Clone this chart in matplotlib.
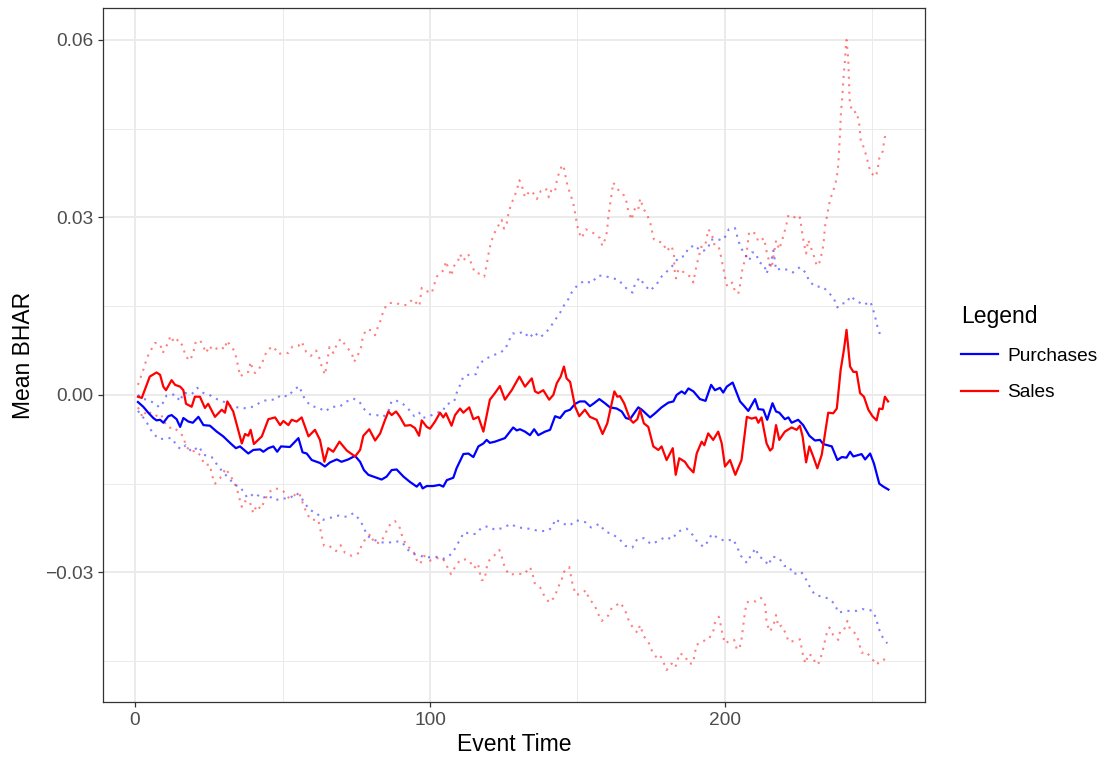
import matplotlib
matplotlib.use("Agg")
import matplotlib.pyplot as plt
from matplotlib.lines import Line2D
from matplotlib.ticker import FixedLocator

plt.rcParams['font.family'] = ['Liberation Sans', 'DejaVu Sans']

# ---- data: (event time, mean BHAR) ----
sales_mean = [(1,-0.0003),(2.3,-0.0005),(5,0.0031),(7.3,0.0038),(8.5,0.0034),(9.6,0.0014),(10.5,0.0008),(12.4,0.0025),(13.6,0.0017),(15.3,0.0014),(16.4,0.0008),(17.3,-0.0015),(19.2,-0.002),(20.3,-0.0003),(22,-0.0003),(23.7,-0.0022),(24.8,-0.0015),(27.1,-0.0037),(29.4,-0.0025),(30.5,-0.003),(31.3,-0.0011),(33.3,-0.0028),(36.2,-0.0082),(37.3,-0.0066),(38.4,-0.0069),(39.2,-0.0059),(40.3,-0.0083),(43,-0.007),(45.2,-0.0041),(47.5,-0.0038),(49.2,-0.0051),(50.3,-0.0044),(52,-0.0051),(53.1,-0.0042),(54.8,-0.0045),(56.5,-0.0038),(58.8,-0.007),(61,-0.0059),(62.7,-0.0076),(64.2,-0.0113),(65.5,-0.009),(67.2,-0.0096),(69.3,-0.0079),(71.8,-0.0094),(74.6,-0.0104),(76.3,-0.0093),(77.4,-0.0069),(79.4,-0.0058),(81.4,-0.0077),(83.1,-0.0065),(84.7,-0.0043),(85.9,-0.0028),(87,-0.0034),(88.5,-0.0028),(89.8,-0.0037),(91.5,-0.0052),(93.4,-0.0051),(94.9,-0.0056),(96.3,-0.0069),(97.2,-0.0043),(98.9,-0.0054),(100,-0.0057),(101.7,-0.0045),(103.4,-0.003),(104.5,-0.0038),(105.4,-0.0031),(107.3,-0.0052),(108.5,-0.0034),(110.2,-0.0023),(111.3,-0.003),(113.3,-0.0021),(114.7,-0.0041),(116.4,-0.0037),(118.1,-0.0062),(120.3,-0.0008),(122,0.0003),(123.7,0.0015),(125.4,-0.0008),(127.7,0.0008),(130.3,0.0031),(132.2,0.0014),(134.5,0.0028),(135.6,0.0006),(136.7,0.0003),(138.4,0.0008),(140.4,-0.0008),(141.8,0.0),(143,0.002),(144.3,0.0031),(145.4,0.0048),(146.3,0.0028),(147.5,0.0022),(149.2,-0.002),(150.6,-0.0036),(152.5,-0.0025),(154.2,-0.0037),(156.5,-0.0042),(158.5,-0.0066),(160.1,-0.0048),(162.5,0.0006),(163.5,-0.0003),(164.4,-0.0002),(165.8,-0.0014),(167.8,-0.0041),(168.9,-0.0047),(170.3,-0.0041),(171.2,-0.0025),(172.5,-0.0048),(174,-0.0054),(175.7,-0.0087),(177.4,-0.0093),(178.5,-0.0087),(180.2,-0.011),(182.3,-0.009),(183.3,-0.0135),(184.5,-0.0107),(186.4,-0.0113),(187.6,-0.0122),(189.3,-0.0131),(190.4,-0.0099),(192.1,-0.0079),(193,-0.0085),(194.3,-0.0065),(196,-0.0076),(197.7,-0.0062),(198.9,-0.0082),(200,-0.0121),(201.7,-0.011),(203.5,-0.0135),(205.6,-0.011),(207.4,-0.0037),(209,-0.004),(210.5,-0.0038),(211.3,-0.0047),(212.4,-0.0038),(214.1,-0.0082),(215.3,-0.0094),(216.1,-0.009),(217.3,-0.0051),(218.4,-0.0076),(220.3,-0.0062),(222.6,-0.0055),(224.3,-0.0059),(225.4,-0.0052),(226.3,-0.007),(227.5,-0.0114),(228.6,-0.0087),(229.9,-0.0104),(231.3,-0.0124),(232.8,-0.0101),(233.9,-0.0065),(235,-0.003),(236.7,-0.0031),(237.9,-0.0023),(239.2,0.0042),(240.3,0.0076),(241.2,0.011),(242.4,0.0048),(243.5,0.0039),(244.6,0.0039),(245.8,0.0003),(247.1,-0.0003),(248.6,-0.0025),(250,-0.0036),(251.4,-0.0043),(252.3,-0.0023),(253.4,-0.0024),(254.2,-0.0003),(255.3,-0.0011)]

purchases_mean = [(1,-0.0012),(2.8,-0.002),(4.5,-0.003),(6.2,-0.0039),(7.3,-0.0043),(8.5,-0.0042),(9.6,-0.0047),(11.3,-0.0036),(12.4,-0.0034),(14.1,-0.0041),(15.3,-0.0054),(16.4,-0.0039),(18.1,-0.0045),(19.6,-0.0047),(21.5,-0.0037),(23.2,-0.0051),(25.4,-0.0052),(27.7,-0.0062),(29.9,-0.007),(32.2,-0.0081),(34.2,-0.009),(35.6,-0.0087),(38.4,-0.0099),(40.1,-0.0093),(42.4,-0.0092),(43.5,-0.0096),(45.2,-0.009),(46.9,-0.0087),(48.2,-0.0096),(49.5,-0.0087),(52.5,-0.0088),(55.4,-0.0073),(56.8,-0.0097),(58.2,-0.0099),(59.9,-0.011),(62.7,-0.0115),(64.4,-0.0121),(66.1,-0.0114),(68.4,-0.0109),(70,-0.0113),(72.3,-0.0109),(74.6,-0.0103),(76.3,-0.0113),(77.6,-0.0127),(79.1,-0.0135),(80.8,-0.0138),(83.6,-0.0143),(85.3,-0.0138),(87,-0.0127),(88.7,-0.0126),(91,-0.0138),(93.2,-0.0147),(95.5,-0.0155),(96.6,-0.0149),(97.5,-0.0158),(98.9,-0.0154),(101.1,-0.0154),(103.2,-0.0152),(104.5,-0.0155),(105.7,-0.0144),(107.9,-0.014),(109,-0.0124),(111.3,-0.01),(113,-0.0099),(114.7,-0.0105),(116.4,-0.0087),(118.1,-0.0082),(119.2,-0.0076),(120.3,-0.0081),(122,-0.0079),(123.7,-0.0076),(125.4,-0.0073),(127.1,-0.0062),(128.2,-0.0055),(129.4,-0.006),(130.5,-0.0058),(132.2,-0.0062),(133.9,-0.0068),(135.3,-0.0058),(136.7,-0.0068),(139,-0.0062),(140.7,-0.0059),(142.4,-0.0036),(144.1,-0.0039),(145.8,-0.0028),(147.5,-0.0025),(149.2,-0.0015),(150.8,-0.0011),(152.5,-0.0011),(154.2,-0.0019),(155.6,-0.0014),(157.4,-0.0007),(159.3,-0.0014),(161,-0.0021),(163.3,-0.0023),(165,-0.0028),(166.4,-0.0039),(167.8,-0.0041),(170.6,-0.0021),(171.8,-0.0025),(174.6,-0.0038),(176.3,-0.0031),(178.5,-0.0021),(180.8,-0.0013),(182.5,-0.0011),(183.6,0.0),(185.3,0.0006),(186.4,0.0002),(187.6,0.0011),(189.3,0.0006),(191.5,-0.0007),(193.4,-0.001),(195.3,0.0017),(196.6,0.0008),(198.3,0.0012),(199.4,0.0004),(200.6,0.0014),(202.6,0.0021),(205.1,-0.0011),(206.2,-0.0017),(207.9,-0.0027),(210.2,-0.0007),(211.3,-0.0024),(213,-0.0025),(214.3,-0.0042),(216.1,-0.0014),(217.3,-0.0028),(218.4,-0.003),(220.3,-0.0041),(221.5,-0.0038),(222.6,-0.0047),(224.8,-0.0042),(226.5,-0.0051),(228.6,-0.0069),(230.5,-0.0077),(232.2,-0.0076),(233.3,-0.0083),(236.2,-0.0087),(238.1,-0.011),(239.6,-0.0105),(241.2,-0.0106),(242.4,-0.0096),(243.5,-0.0104),(246.3,-0.01),(247.5,-0.0109),(249.2,-0.0099),(250.5,-0.0116),(252.3,-0.015),(253.7,-0.0155),(255.4,-0.016)]

sales_upper = [(1,0.0017),(3,0.0045),(4,0.0062),(5.3,0.0075),(6.8,0.0088),(8.5,0.0086),(9.4,0.0071),(10.7,0.0083),(12.1,0.01),(13.3,0.0088),(14.7,0.0094),(16.4,0.0081),(17,0.0066),(18.6,0.0058),(19.8,0.0071),(20.3,0.0087),(22,0.0093),(22.9,0.0085),(24.1,0.0071),(25.2,0.0083),(26.5,0.0075),(28.8,0.0082),(30.5,0.0077),(31.1,0.0092),(33.6,0.0075),(34.5,0.006),(35,0.0045),(35.8,0.0031),(36.9,0.0037),(38.4,0.0039),(39.2,0.0056),(39.9,0.0042),(40.7,0.0037),(42.6,0.0048),(43.7,0.0062),(44.8,0.0076),(46.9,0.0082),(48.6,0.0069),(50.1,0.0071),(52,0.0071),(53.4,0.0082),(55.4,0.0083),(56.5,0.009),(58,0.0073),(59.6,0.0066),(61.4,0.0075),(62.5,0.0062),(63.3,0.0048),(64.4,0.0034),(65,0.0051),(65.9,0.0081),(67.2,0.0071),(68.4,0.0085),(69.7,0.0095),(71.5,0.0083),(73.5,0.007),(74.3,0.0056),(75.7,0.0069),(76.8,0.0083),(77.2,0.0099),(78.5,0.0111),(80.2,0.0109),(81.4,0.0101),(82.5,0.0117),(83.6,0.013),(84.2,0.0144),(85.9,0.0155),(88.1,0.0156),(90.4,0.0152),(92.3,0.0152),(94.1,0.0162),(96.4,0.015),(96.8,0.0166),(97.2,0.0181),(98.6,0.0176),(100.6,0.0172),(101.4,0.0186),(102.3,0.02),(103.6,0.0207),(104.7,0.0211),(105.4,0.0226),(106.2,0.0214),(107.3,0.0201),(107.9,0.0217),(109.3,0.0223),(110.2,0.0238),(111.3,0.0227),(113,0.0238),(114.1,0.022),(115.3,0.0206),(117,0.0205),(118.4,0.02),(119,0.0215),(119.6,0.0231),(120.1,0.0246),(120.9,0.0261),(122,0.0275),(123.5,0.0289),(124.3,0.0296),(125.1,0.0281),(126,0.029),(126.6,0.0306),(127.4,0.0321),(128.5,0.0334),(129.6,0.0349),(130.3,0.0363),(131.4,0.0349),(132.2,0.0334),(133,0.034),(134.5,0.0345),(136.2,0.0331),(137.6,0.0345),(139.3,0.0349),(140.3,0.0334),(141.2,0.0347),(142.4,0.0344),(142.9,0.036),(143.7,0.0375),(144.8,0.0389),(145.5,0.0382),(146,0.0368),(146.7,0.0352),(147.7,0.0338),(148.6,0.0323),(149.2,0.0307),(149.7,0.0292),(150.3,0.0277),(151.4,0.0265),(152.8,0.028),(154.6,0.0276),(155.9,0.0272),(157.6,0.0265),(158.4,0.0252),(159.7,0.0267),(160.1,0.0282),(160.4,0.0298),(160.8,0.0313),(161.2,0.0328),(161.7,0.0344),(162.1,0.0359),(163.1,0.0352),(164.6,0.0341),(165.9,0.0337),(166.7,0.0325),(167.2,0.0311),(168.4,0.0296),(168.9,0.031),(169.8,0.0317),(170.6,0.0313),(171,0.0327),(171.4,0.0332),(172.1,0.0317),(173.5,0.0305),(174.6,0.0293),(175.2,0.0278),(175.9,0.0263),(177.1,0.0259),(178.9,0.0258),(180.2,0.0243),(181.9,0.0252),(182.7,0.0237),(182.8,0.0223),(183,0.0207),(183.4,0.0197),(184.2,0.0212),(185,0.0212),(186.8,0.0203),(188.5,0.02),(189.3,0.019),(189.8,0.0205),(190.4,0.022),(191.2,0.0235),(191.9,0.025),(193.2,0.0251),(193.8,0.0265),(194.3,0.028),(195.5,0.0273),(196.6,0.025),(198,0.0248),(198.6,0.0235),(199.2,0.022),(199.8,0.0205),(200.4,0.0189),(200.8,0.0183),(202.5,0.019),(203.4,0.0175),(204.5,0.0171),(205.1,0.0186),(205.6,0.0201),(206,0.0217),(207.1,0.0231),(208.2,0.0276),(210.3,0.0273),(211.3,0.0259),(213.3,0.0265),(213.8,0.0249),(214.5,0.0234),(215.8,0.0214),(217.3,0.0261),(218.4,0.0246),(219.2,0.0259),(220.1,0.0274),(220.9,0.029),(221.5,0.0304),(223.2,0.0302),(224.5,0.0296),(225.4,0.03),(226.3,0.027),(226.8,0.0255),(227.5,0.0239),(228.2,0.0262),(229.2,0.0248),(230.2,0.0234),(231.1,0.0218),(232,0.0224),(232.8,0.0239),(233.4,0.0255),(233.9,0.0285),(234.5,0.03),(235.1,0.0316),(235.6,0.033),(236.7,0.0345),(237.5,0.0359),(238.1,0.0375),(238.4,0.0389),(238.6,0.0406),(238.8,0.0421),(239,0.0437),(239.1,0.0451),(239.2,0.0468),(239.4,0.0483),(239.7,0.0499),(239.9,0.0514),(240.1,0.053),(240.3,0.0545),(240.6,0.056),(240.8,0.0576),(241,0.0592),(241.2,0.06),(241.8,0.0566),(242.0,0.0535),(242.2,0.0505),(242.4,0.049),(243.5,0.0477),(244.6,0.0479),(245.5,0.0458),(245.8,0.0442),(246.1,0.0426),(246.9,0.042),(247.8,0.0406),(248.6,0.039),(249.4,0.0375),(251.2,0.0369),(251.8,0.0383),(252.3,0.04),(253.5,0.0412),(253.9,0.0428),(254.4,0.0441)]

purchases_upper = [(1,0.0),(2.8,-0.0007),(4.2,-0.0008),(5.3,-0.0011),(6.8,-0.0014),(8.2,-0.0021),(9.4,-0.0014),(10.7,-0.0001),(13.6,0.0001),(15.3,-0.0011),(16.4,0.0004),(19.2,0.0001),(21.1,0.0012),(22.9,0.0004),(25.2,0.0),(27.7,-0.0007),(30.8,-0.0013),(33.1,-0.0021),(35.6,-0.0021),(37.9,-0.0023),(40.4,-0.0019),(43,-0.0011),(45.2,-0.0008),(47.7,-0.0008),(49.4,0.0),(51.8,-0.0003),(53.7,0.0008),(55.7,0.0015),(56.8,0.0),(58,-0.001),(59.7,-0.0019),(62.1,-0.0021),(64.4,-0.0028),(66.7,-0.002),(69.3,-0.002),(71.8,-0.0011),(74,-0.0006),(76,-0.0011),(77.7,-0.0024),(79.7,-0.0033),(81.9,-0.0034),(84.2,-0.0037),(86.1,-0.0025),(87,-0.001),(88.7,-0.001),(90.6,-0.0014),(92.7,-0.0024),(94.7,-0.0036),(96.3,-0.003),(97.5,-0.0039),(99.8,-0.0036),(102.3,-0.003),(104.3,-0.0028),(105.3,-0.0017),(107,-0.0013),(108.2,-0.0011),(109,0.0003),(110.2,0.0017),(111.3,0.0031),(113.6,0.0035),(115.6,0.0035),(116.4,0.005),(118.4,0.006),(120.6,0.0065),(122.9,0.007),(125.4,0.0076),(126.6,0.009),(128,0.0104),(129.4,0.0103),(131.8,0.0107),(133.7,0.0096),(135.3,0.0106),(137.3,0.0097),(139.6,0.0107),(141.5,0.012),(144.1,0.0139),(145.5,0.0152),(146.9,0.0162),(148,0.0173),(149.9,0.0185),(152.3,0.0193),(154.8,0.0189),(156.7,0.0201),(158.7,0.0202),(161.2,0.0198),(163.8,0.0195),(165.8,0.0184),(167.2,0.0177),(168.7,0.0173),(169.5,0.0188),(171,0.0198),(172.7,0.0186),(174.6,0.0176),(176.8,0.0187),(178.5,0.02),(180.8,0.0211),(182.7,0.0221),(184.2,0.0232),(186.4,0.0235),(187.6,0.0249),(190.1,0.0253),(191.3,0.0244),(192.9,0.0244),(194.3,0.0248),(195.1,0.0262),(197.2,0.0264),(198.9,0.0261),(200,0.0267),(201.3,0.028),(203.4,0.0282),(204.2,0.0267),(205.1,0.0252),(206.4,0.024),(208.2,0.0227),(209.2,0.0241),(210.5,0.024),(211.5,0.0224),(213.3,0.022),(214.1,0.0205),(214.9,0.0217),(215.8,0.0229),(216.4,0.0244),(216.9,0.0227),(217.3,0.0211),(219.2,0.0214),(221.5,0.0211),(223,0.0207),(225.4,0.0216),(227.5,0.0206),(228.5,0.0192),(230.7,0.0183),(233.1,0.0183),(235,0.0174),(236.9,0.0163),(238.1,0.0148),(239.2,0.0154),(241.4,0.0156),(242.4,0.0167),(244.6,0.0159),(247.1,0.0152),(249.2,0.0158),(250,0.0148),(250.8,0.0134),(251.6,0.0117),(252.5,0.0103),(254.2,0.0106)]

purchases_lower = [(1,-0.0027),(2.3,-0.0036),(3.4,-0.0041),(4.8,-0.0054),(6.2,-0.0066),(8.5,-0.0075),(10.4,-0.0073),(12.6,-0.0073),(14.1,-0.0086),(15.6,-0.0092),(17.2,-0.0085),(19.2,-0.0096),(21.7,-0.0087),(23.2,-0.0101),(26,-0.0105),(27.7,-0.0117),(29.7,-0.013),(31.9,-0.0141),(33.7,-0.0152),(35.6,-0.0155),(38.1,-0.0174),(40.7,-0.0166),(43,-0.0175),(45.2,-0.017),(47.5,-0.0178),(49.7,-0.0175),(52.3,-0.0175),(54.8,-0.0166),(56.5,-0.0175),(59.1,-0.0194),(61.6,-0.02),(63.8,-0.0211),(66.7,-0.0207),(68.9,-0.0204),(71.8,-0.0206),(74,-0.02),(76,-0.021),(77.4,-0.0222),(78.7,-0.0238),(80.6,-0.0244),(83.1,-0.0249),(85.9,-0.025),(88.1,-0.0247),(90.6,-0.0249),(92.3,-0.0261),(94.6,-0.0269),(96.8,-0.0272),(98.9,-0.0275),(101.7,-0.0273),(104.5,-0.0277),(107.3,-0.0269),(108.8,-0.0257),(110.2,-0.0244),(111.6,-0.0232),(113.9,-0.0235),(115.6,-0.0235),(117.5,-0.0224),(119.8,-0.0222),(122,-0.0228),(124.6,-0.0225),(127.4,-0.0218),(129.6,-0.0224),(131.9,-0.0225),(134.7,-0.0227),(136.7,-0.023),(139.6,-0.023),(141.5,-0.0224),(142.4,-0.021),(144.8,-0.0217),(147.2,-0.0221),(149.7,-0.0212),(152.6,-0.0215),(154.6,-0.0224),(157.4,-0.0218),(159.4,-0.0231),(161.7,-0.0235),(164.1,-0.0243),(166.2,-0.0255),(168.6,-0.0258),(170.2,-0.0244),(172.5,-0.0242),(174.9,-0.0252),(177.4,-0.0247),(179.7,-0.024),(182.1,-0.0244),(183.8,-0.0232),(185.5,-0.0228),(187,-0.0226),(189.1,-0.0237),(190.7,-0.0249),(192.8,-0.0257),(194.3,-0.0247),(195.5,-0.0235),(197.7,-0.0242),(200,-0.0247),(202.8,-0.0244),(204.2,-0.0258),(205.4,-0.0272),(207.4,-0.0284),(208.8,-0.0271),(210.4,-0.0259),(211.4,-0.0273),(213.3,-0.0278),(214.7,-0.0288),(216,-0.0273),(218.4,-0.0276),(220.1,-0.0289),(221.7,-0.029),(223.2,-0.0303),(225.8,-0.0299),(227.5,-0.0312),(228.8,-0.0325),(230.5,-0.0338),(232.2,-0.034),(235,-0.0344),(237.2,-0.0353),(238.4,-0.0368),(241.2,-0.0365),(242.9,-0.0365),(244.6,-0.0365),(246.6,-0.0362),(248.6,-0.0363),(250,-0.0365),(251.2,-0.0377),(252,-0.0393),(253.1,-0.0407),(255,-0.042)]

sales_lower = [(1,-0.0021),(2.6,-0.0038),(4,-0.0026),(6.8,-0.0036),(8.8,-0.0032),(9.8,-0.0045),(11.6,-0.0056),(13,-0.0054),(14.7,-0.0062),(16.4,-0.007),(17.2,-0.0086),(18.9,-0.0096),(20.7,-0.0094),(22.4,-0.0104),(23.5,-0.0118),(25.4,-0.0118),(26,-0.0134),(27.1,-0.015),(28.8,-0.0141),(30.8,-0.0124),(32,-0.0135),(33.3,-0.0144),(34.5,-0.0158),(35.4,-0.0175),(36.2,-0.0189),(36.9,-0.018),(38.8,-0.0179),(40.1,-0.02),(41.3,-0.0186),(42.6,-0.0193),(44.1,-0.0177),(45.3,-0.0165),(47.1,-0.0158),(48.9,-0.0159),(50.3,-0.0163),(52.3,-0.0175),(54.2,-0.0169),(55.7,-0.0166),(56.8,-0.0182),(58.2,-0.02),(59.6,-0.0211),(62.1,-0.0211),(62.7,-0.0224),(63.4,-0.0241),(64.1,-0.0255),(65.8,-0.0255),(68.1,-0.0264),(69.7,-0.0254),(71.2,-0.0267),(73.5,-0.0272),(76,-0.0267),(76.8,-0.0254),(78.3,-0.0242),(79.9,-0.0235),(81,-0.025),(83.1,-0.025),(84.7,-0.0237),(85.9,-0.0222),(88.1,-0.0213),(89.8,-0.0225),(90.7,-0.0241),(92.1,-0.0255),(94.3,-0.0263),(95.5,-0.0279),(96.6,-0.0286),(98,-0.0272),(100,-0.028),(102.3,-0.0276),(104.3,-0.0276),(105.7,-0.0289),(107.1,-0.0303),(108.5,-0.0291),(110.2,-0.0279),(111.9,-0.0278),(113.3,-0.028),(114.9,-0.0293),(116.3,-0.0285),(116.7,-0.0297),(117.5,-0.0313),(118.6,-0.0312),(119,-0.0296),(119.8,-0.0281),(121.5,-0.0273),(123.5,-0.0262),(124.6,-0.0278),(125.4,-0.0293),(126.9,-0.0304),(129.4,-0.0302),(131.9,-0.0303),(133.9,-0.0291),(134.8,-0.0302),(135.3,-0.0317),(137.3,-0.0325),(138.6,-0.0338),(140.4,-0.0351),(142.4,-0.0341),(143.2,-0.0327),(144.6,-0.0314),(145.2,-0.03),(147.2,-0.0291),(147.8,-0.0307),(148.4,-0.0322),(149.5,-0.0338),(151.2,-0.0336),(152.9,-0.033),(153.9,-0.0345),(155.7,-0.0354),(156.8,-0.0368),(158.2,-0.0382),(160.4,-0.0373),(161.6,-0.036),(163.3,-0.0355),(164.6,-0.0351),(166.2,-0.0365),(167.2,-0.0379),(168.7,-0.0393),(170.3,-0.0402),(171.2,-0.0389),(172.5,-0.0408),(174,-0.0417),(175.2,-0.0432),(176.8,-0.0444),(178,-0.044),(179.1,-0.0451),(180.2,-0.0465),(181.9,-0.0454),(183.1,-0.0461),(183.8,-0.0451),(184.5,-0.0437),(186.4,-0.044),(187.6,-0.0454),(189.1,-0.0454),(189.8,-0.0438),(190.2,-0.0423),(192.4,-0.0416),(194.3,-0.0414),(196,-0.04),(196.6,-0.0385),(197.9,-0.0375),(198.6,-0.039),(199.2,-0.0406),(200,-0.042),(201.1,-0.0417),(203.1,-0.0414),(204,-0.043),(204.9,-0.0429),(205.6,-0.0413),(206,-0.0397),(206.4,-0.0382),(206.8,-0.0366),(207.4,-0.0351),(208.5,-0.0348),(210.5,-0.0349),(212.2,-0.0343),(213.6,-0.0355),(213.9,-0.037),(214.1,-0.0386),(215.3,-0.04),(216.6,-0.0386),(217.3,-0.0372),(218.1,-0.0392),(219.2,-0.039),(220.7,-0.0404),(221.5,-0.0417),(223.4,-0.0416),(225.4,-0.0413),(226,-0.0428),(226.6,-0.0444),(227.3,-0.0454),(228.2,-0.0438),(229.7,-0.0441),(230.8,-0.0456),(232,-0.0452),(232.8,-0.0438),(233.6,-0.0423),(234.2,-0.0407),(235.4,-0.0393),(236.7,-0.0406),(238.4,-0.0414),(239,-0.04),(240.1,-0.0399),(240.7,-0.0393),(241.5,-0.0382),(242.4,-0.0396),(244.6,-0.0405),(245.5,-0.042),(246.3,-0.0436),(247.8,-0.0434),(249.7,-0.0445),(251.4,-0.0456),(252.5,-0.045),(253.9,-0.0447),(255.2,-0.0454)]

x_ticks = [0, 100, 200]
y_ticks = [-0.03, 0.00, 0.03, 0.06]
y_tick_labels = ["\u22120.03", "0.00", "0.03", "0.06"]
legend_labels = ["Purchases", "Sales"]

BLUE = "#0000FF"
RED = "#FF0000"

fig = plt.figure(figsize=(11.06, 7.59), dpi=100)
ax = fig.add_axes([103/1106, 1 - 702/759, (925-103)/1106, (702-8)/759])

def xy(series):
    xs, ys = zip(*series)
    return list(xs), list(ys)

dot = (0, (1, 2.6))
for s, c in [(purchases_upper, BLUE), (purchases_lower, BLUE), (sales_upper, RED), (sales_lower, RED)]:
    xs, ys = xy(s)
    ax.plot(xs, ys, color=c, alpha=0.5, lw=1.5, linestyle=dot, zorder=3)

xs, ys = xy(purchases_mean)
ax.plot(xs, ys, color=BLUE, lw=1.6, zorder=4)
xs, ys = xy(sales_mean)
ax.plot(xs, ys, color=RED, lw=1.6, zorder=4)

ax.set_xlim(-10.85, 267.8)
ax.set_ylim(-0.0519, 0.0654)

ax.xaxis.set_major_locator(FixedLocator(x_ticks))
ax.xaxis.set_minor_locator(FixedLocator([50, 150, 250]))
ax.yaxis.set_major_locator(FixedLocator(y_ticks))
ax.yaxis.set_minor_locator(FixedLocator([-0.045, -0.015, 0.015, 0.045]))
ax.set_yticklabels(y_tick_labels)

ax.grid(True, which='major', color='#EBEBEB', lw=1.4, zorder=0)
ax.grid(True, which='minor', color='#EBEBEB', lw=0.7, zorder=0)
ax.set_axisbelow(True)
ax.tick_params(which='major', length=3.6, width=0.9, color='#333333',
               labelsize=13.8, labelcolor='#4D4D4D', pad=3.5)
ax.tick_params(which='minor', length=0)
for sp in ax.spines.values():
    sp.set_color('#333333')
    sp.set_linewidth(0.9)

ax.set_xlabel("Event Time", fontsize=16.5, labelpad=3)
ax.set_ylabel("Mean BHAR", fontsize=16.5, labelpad=7)

handles = [Line2D([], [], color=BLUE, lw=1.6), Line2D([], [], color=RED, lw=1.6)]
leg = fig.legend(handles, legend_labels, title="Legend", loc='upper left',
                 bbox_to_anchor=(944/1106, 1 - 288/759), frameon=False,
                 fontsize=13.8, title_fontsize=16.5, handlelength=1.9,
                 handletextpad=0.5, labelspacing=1.0, alignment='left')

fig.savefig("out.png", dpi=100)
